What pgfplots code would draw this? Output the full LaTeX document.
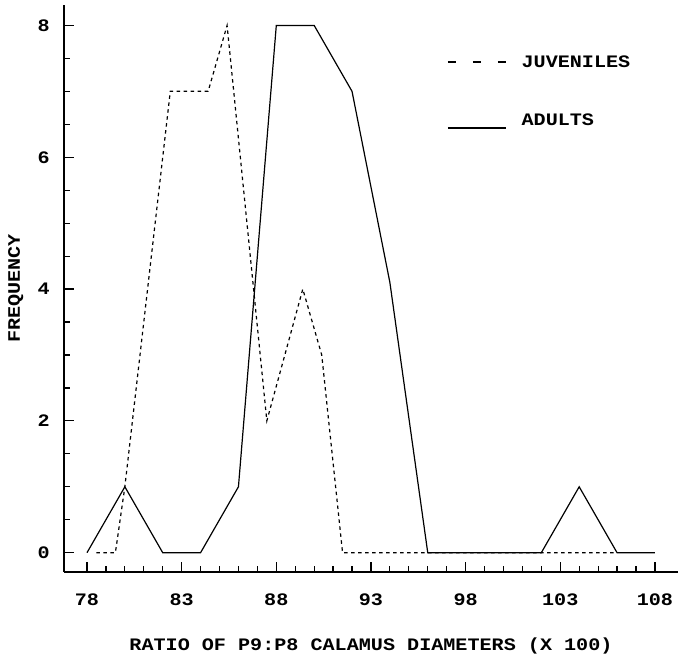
\documentclass[border=0pt]{standalone}
\usepackage{fontspec}
\usepackage{pgfplots}
\pgfplotsset{compat=1.18}
\newfontfamily\cour{Liberation Mono}[FakeStretch=1.15]
\newcommand\labfont{\cour\bfseries\fontsize{17.5bp}{17.5bp}\selectfont}

% frequency counts
\pgfplotstableread{
x     y
78.5  0
79.5  0
80    1
82.4  7
84.4  7
85.4  8
87.5  2
89.4  4
90.4  3
91.5  0
106   0
}\juveniles
\pgfplotstableread{
x     y
78    0
80    1
82    0
84    0
86    1
88    8
90    8
92    7
94    4.1
96    0
98    0
100   0
102   0
104   1
106   0
108   0
}\adults

\begin{document}
\begin{tikzpicture}
\useasboundingbox (0,0) rectangle (680bp,655bp);
\begin{axis}[
    at={(64bp,83bp)}, anchor=south west,
    scale only axis,
    width=614bp, height=567bp,
    xmin=76.785, xmax=109.22,
    ymin=-0.293, ymax=8.31,
    axis x line*=bottom, axis y line*=left,
    axis line style={line width=1.6bp},
    xtick={78,83,...,108},
    ytick={0,2,...,8},
    minor x tick num=4,
    minor y tick num=3,
    tick align=inside,
    major tick length=10bp,
    minor tick length=5.5bp,
    tick style={black, line width=1.2bp},
    /pgf/number format/assume math mode=true,
    xticklabel style={font=\labfont, anchor=north, inner sep=0pt, yshift=-22bp},
    yticklabel style={font=\labfont, anchor=east, inner sep=0pt, xshift=-14bp},
    xlabel={RATIO OF P9:P8 CALAMUS DIAMETERS (X 100)},
    ylabel={FREQUENCY},
    label style={font=\labfont, inner sep=0pt},
    xlabel style={at={(axis description cs:0.5,-0.1164)}, anchor=north},
    ylabel style={at={(axis description cs:-0.066,0.5)}, anchor=south},
    legend cell align=left,
    legend style={
        at={(axis description cs:0.6238,0.9092)}, anchor=north west,
        draw=none, fill=none, inner sep=0pt, outer sep=0pt,
        row sep=47.5bp, column sep=15bp,
        nodes={inner sep=0pt, text height=11bp, text depth=0pt, font=\labfont},
    },
]
\addplot[black, line width=1.2bp, dash pattern=on 3.5bp off 3.5bp, forget plot]
    table[x=x, y=y] {\juveniles};
\addplot[black, line width=1.2bp, forget plot]
    table[x=x, y=y] {\adults};

\addlegendimage{legend image code/.code={
    \draw[black, line width=1.6bp, dash pattern=on 8bp off 17bp] (0bp,0bp) -- (58bp,0bp);}}
\addlegendentry{JUVENILES}
\addlegendimage{legend image code/.code={
    \draw[black, line width=1.3bp] (0bp,-7.5bp) -- (58bp,-7.5bp);}}
\addlegendentry{ADULTS}
\end{axis}
\end{tikzpicture}
\end{document}
